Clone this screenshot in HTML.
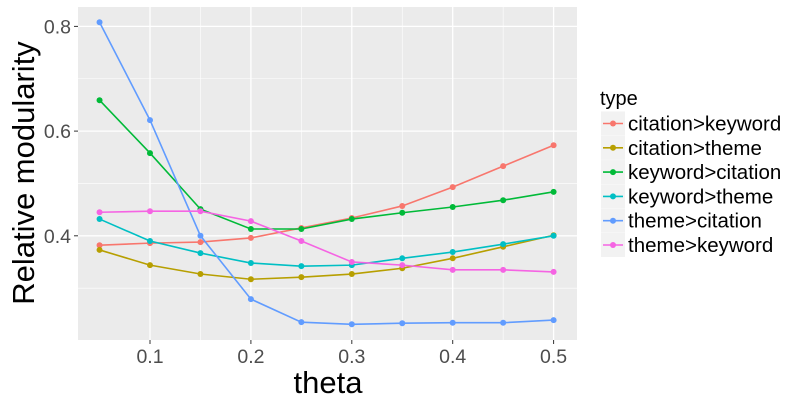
<!DOCTYPE html>
<html><head><meta charset="utf-8"><style>
body{margin:0;background:#fff;width:800px;height:400px;overflow:hidden}
svg{font-family:"Liberation Sans",sans-serif}
</style></head><body>
<svg id="chart" width="800" height="400">
<rect x="78" y="7" width="499" height="333" fill="#ebebeb"/>
<g id="grid"></g><g id="series"></g><g id="axes"></g><g id="legend"></g>
<text x="34" y="173" font-size="31" text-anchor="middle" transform="rotate(-90 34 173)">Relative modularity</text>
<text x="328" y="393" font-size="31" text-anchor="middle">theta</text>
</svg>
<script>
const thetas=[0.05,0.1,0.15,0.2,0.25,0.3,0.35,0.4,0.45,0.5];
const seriesNames=["citation>keyword","citation>theme","keyword>citation","keyword>theme","theme>citation","theme>keyword"];
const colors=["#F8766D","#B79F00","#00BA38","#00BFC4","#619CFF","#F564E3"];
const citationKeyword=[0.382,0.386,0.388,0.396,0.415,0.434,0.457,0.493,0.533,0.573];
const citationTheme=[0.373,0.344,0.327,0.317,0.321,0.327,0.338,0.357,0.379,0.401];
const keywordCitation=[0.659,0.558,0.451,0.413,0.413,0.432,0.444,0.455,0.468,0.484];
const keywordTheme=[0.432,0.390,0.367,0.348,0.342,0.344,0.357,0.369,0.384,0.400];
const themeCitation=[0.808,0.621,0.400,0.279,0.235,0.231,0.233,0.234,0.234,0.239];
const themeKeyword=[0.445,0.447,0.447,0.428,0.390,0.350,0.344,0.335,0.335,0.331];
const xTicks=[0.1,0.2,0.3,0.4,0.5];
const yTicks=[0.4,0.6,0.8];
const yMinor=[0.3,0.5,0.7];
const xMinor=[0.15,0.25,0.35,0.45];
const allSeries=[citationKeyword,citationTheme,keywordCitation,keywordTheme,themeCitation,themeKeyword];
const NS="http://www.w3.org/2000/svg";
const X=v=>150+(v-0.1)*1009;
const Y=v=>235.8-(v-0.4)*523.5;
function mk(tag,attrs,parent){const e=document.createElementNS(NS,tag);for(const k in attrs)e.setAttribute(k,attrs[k]);parent.appendChild(e);return e;}
const grid=document.getElementById('grid'),axes=document.getElementById('axes'),ser=document.getElementById('series'),leg=document.getElementById('legend');
yMinor.forEach(v=>{const l=mk('line',{x1:78,x2:577,y1:Y(v),y2:Y(v),stroke:'#fff','stroke-width':0.6},grid);

});
xMinor.forEach(v=>{const l=mk('line',{x1:X(v),x2:X(v),y1:7,y2:340,stroke:'#fff','stroke-width':0.6},grid);

});
yTicks.forEach(v=>{const l=mk('line',{x1:78,x2:577,y1:Y(v),y2:Y(v),stroke:'#fff','stroke-width':1.3},grid);


const t=mk('line',{x1:74,x2:78,y1:Y(v),y2:Y(v),stroke:'#333','stroke-width':1},axes);


const tx=mk('text',{x:71,y:Y(v)+7,'font-size':19.5,fill:'#4d4d4d','text-anchor':'end'},axes);tx.textContent=v.toFixed(1);

});
xTicks.forEach(v=>{const l=mk('line',{x1:X(v),x2:X(v),y1:7,y2:340,stroke:'#fff','stroke-width':1.3},grid);


const t=mk('line',{x1:X(v),x2:X(v),y1:340,y2:344,stroke:'#333','stroke-width':1},axes);


const tx=mk('text',{x:X(v),y:363,'font-size':19.5,fill:'#4d4d4d','text-anchor':'middle'},axes);tx.textContent=v.toFixed(1);

});
allSeries.forEach((vals,i)=>{const g=mk('g',{},ser);


const pl=mk('polyline',{points:vals.map((v,j)=>X(thetas[j])+','+Y(v)).join(' '),fill:'none',stroke:colors[i],'stroke-width':1.6},g);


vals.forEach((v,j)=>{const c=mk('circle',{cx:X(thetas[j]),cy:Y(v),r:3,fill:colors[i]},g);

});});
const lt=mk('text',{x:600,y:105,'font-size':20},leg);lt.textContent='type';


seriesNames.forEach((n,i)=>{const y=123.5+i*24.3;const g=mk('g',{},leg);


mk('rect',{x:601,y:y-12,width:24,height:24,fill:'#f2f2f2'},g);
mk('line',{x1:603,x2:623,y1:y,y2:y,stroke:colors[i],'stroke-width':1.6},g);
mk('circle',{cx:613,cy:y,r:3,fill:colors[i]},g);
const t=mk('text',{x:628,y:y+7,'font-size':20.5},g);t.textContent=n;});
</script>
</body></html>
